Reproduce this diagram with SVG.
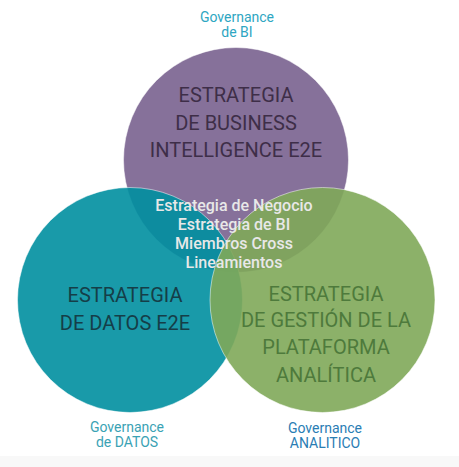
<svg xmlns="http://www.w3.org/2000/svg" width="459" height="467" viewBox="0 0 459 467">
<style>
.c{stroke:#ffffff;stroke-opacity:0.5;stroke-width:1}
.t{font-family:Roboto,"Liberation Sans",sans-serif;text-anchor:middle}
.big{font-size:20px}
.gov{font-size:14px}
.mid{font-size:16px;font-weight:500;fill:#e8e8e8}
</style>
<rect x="0" y="0" width="459" height="467" fill="#ffffff"/>
<rect x="0" y="456" width="459" height="11" fill="#f8f8f8"/>
<g id="purple">
<circle class="c" cx="236" cy="160" r="112.5" fill="#86719a"/>
</g>
<g id="teal">
<circle class="c" cx="130" cy="300" r="112.5" fill="#008fa0" fill-opacity="0.9"/>
</g>
<g id="green">
<circle class="c" cx="322.5" cy="300" r="112.5" fill="#7fa959" fill-opacity="0.9"/>
</g>
<g id="connectors"/>
<g id="labels">
<text class="t gov" x="237" y="22" fill="#2ea6c2">Governance</text>
<text class="t gov" x="237" y="37" fill="#2ea6c2">de BI</text>
<text class="t big" x="236" y="102" fill="#3e2e48">ESTRATEGIA</text>
<text class="t big" x="236" y="130" fill="#3e2e48">DE BUSINESS</text>
<text class="t big" x="236" y="157" fill="#3e2e48">INTELLIGENCE E2E</text>
<text class="t big" x="125" y="302" fill="#153e48">ESTRATEGIA</text>
<text class="t big" x="125" y="330" fill="#153e48">DE DATOS E2E</text>
<text class="t big" x="326" y="301" fill="#4e7a3c">ESTRATEGIA</text>
<text class="t big" x="326" y="327" fill="#4e7a3c">DE GESTIÓN DE LA</text>
<text class="t big" x="326" y="354" fill="#4e7a3c">PLATAFORMA</text>
<text class="t big" x="326" y="382" fill="#4e7a3c">ANALÍTICA</text>
<text class="t mid" x="234" y="211">Estrategia de Negocio</text>
<text class="t mid" x="234" y="230">Estrategia de BI</text>
<text class="t mid" x="234" y="249">Miembros Cross</text>
<text class="t mid" x="234" y="268">Lineamientos</text>
<text class="t gov" x="127" y="432" fill="#3aa2b4">Governance</text>
<text class="t gov" x="127" y="447" fill="#3aa2b4">de DATOS</text>
<text class="t gov" x="325" y="433" fill="#2a7db4">Governance</text>
<text class="t gov" x="325" y="448" fill="#2a7db4">ANALITICO</text>
</g>
</svg>
